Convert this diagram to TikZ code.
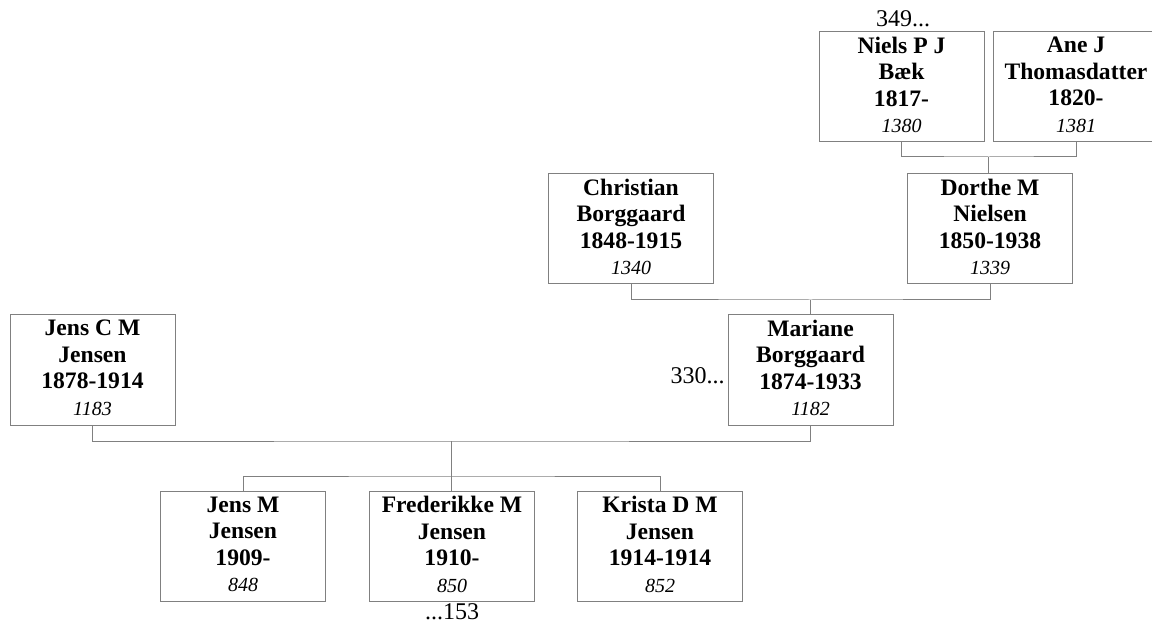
\documentclass[tikz,border=0pt]{standalone}
\usepackage{fontspec}
\setmainfont{Liberation Serif}
\definecolor{linegray}{RGB}{128,128,128}
\tikzset{
  person/.style={draw=linegray, line width=0.75pt, minimum width=123.75pt,
    minimum height=82.5pt, inner sep=0pt, align=center,
    font=\fontsize{17.7}{19.85}\selectfont\bfseries},
  conn/.style={draw=linegray, line width=0.75pt},
  note/.style={font=\fontsize{18}{20}\selectfont, inner sep=0pt},
}
\newcommand{\refno}[1]{{\fontsize{15}{19.85}\selectfont\mdseries\itshape #1\rule[-3.3pt]{0pt}{0pt}}}
\begin{document}
\begin{tikzpicture}[x=0.75pt,y=-0.75pt]
\useasboundingbox (0,0) rectangle (1152,623);
% persons
\node[person] (niels) at (901.5,87) {Niels P J\\Bæk\\1817-\\\refno{1380}};
\node[person] (ane) at (1076,87) {Ane J\\Thomasdatter\\1820-\\\refno{1381}};
\node[person] (christian) at (631,229) {Christian\\Borggaard\\1848-1915\\\refno{1340}};
\node[person] (dorthe) at (990,229) {Dorthe M\\Nielsen\\1850-1938\\\refno{1339}};
\node[person] (jensc) at (92.5,370) {Jens C M\\Jensen\\1878-1914\\\refno{1183}};
\node[person] (mariane) at (810.5,370) {Mariane\\Borggaard\\1874-1933\\\refno{1182}};
\node[person] (jensm) at (243,546.5) {Jens M\\Jensen\\1909-\\\refno{848}};
\node[person] (fred) at (452,546.5) {Frederikke M\\Jensen\\1910-\\\refno{850}};
\node[person] (krista) at (660,546.5) {Krista D M\\Jensen\\1914-1914\\\refno{852}};
% notes
\node[note, anchor=base] (n349) at (903,27) {349...};
\node[note, anchor=base east] (n330) at (725,383) {330...};
\node[note, anchor=base] (n153) at (452,619) {...153};
% junctions
\coordinate (j1) at (988.75,157);
\coordinate (j2) at (810.5,300);
\coordinate (j3) at (451.5,441);
\coordinate (j4) at (451.5,476);
% connectors
\draw[conn] (niels.south) |- (j1) -| (ane.south);
\draw[conn] (j1) -- (j1 |- dorthe.north);
\draw[conn] (christian.south) |- (j2) -| (dorthe.south);
\draw[conn] (j2) -- (mariane.north);
\draw[conn] (jensc.south) |- (j3) -| (mariane.south);
\draw[conn] (j3) -- (j4);
\draw[conn] (jensm.north) |- (j4) -| (krista.north);
\draw[conn] (j4) -- (j4 |- fred.north);
\end{tikzpicture}
\end{document}
